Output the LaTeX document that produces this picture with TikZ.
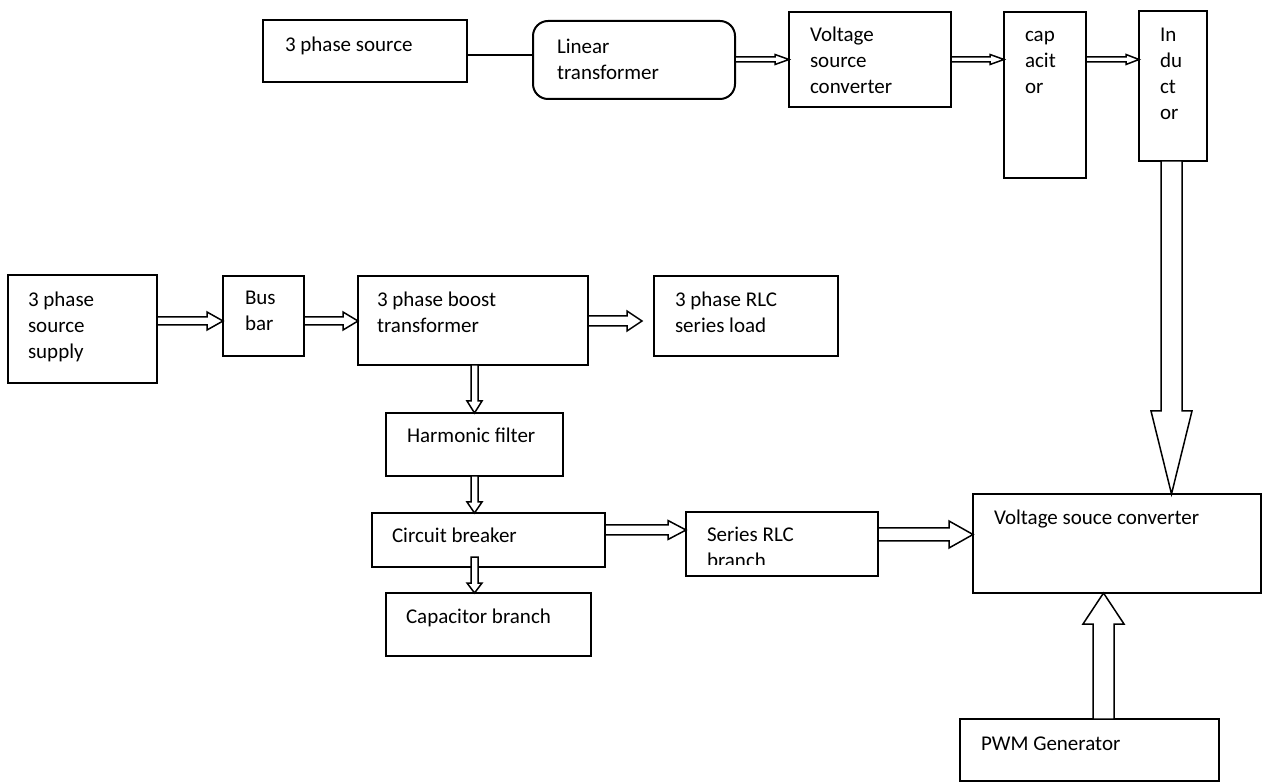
\documentclass[tikz,border=0pt]{standalone}
\usepackage{fontspec}
\setmainfont{Carlito}
\usetikzlibrary{fit,calc}
\newcommand{\ml}[1]{\vtop{\halign{##\hfil\cr#1\crcr}}}
% horizontal block arrow: from, to, y-centre, shaft half, head half, head length
\newcommand{\harr}[6]{\draw[arr] let \p1=(#1), \p2=(#2) in
 (\x1,{-(#3-#4)*1pt}) -- ({\x2-#6pt},{-(#3-#4)*1pt}) -- ({\x2-#6pt},{-(#3-#5)*1pt}) -- (\x2,{-#3*1pt})
 -- ({\x2-#6pt},{-(#3+#5)*1pt}) -- ({\x2-#6pt},{-(#3+#4)*1pt}) -- (\x1,{-(#3+#4)*1pt}) -- cycle;}
% downward block arrow
\newcommand{\darr}[6]{\draw[arr] let \p1=(#1), \p2=(#2) in
 ({(#3-#4)*1pt},\y1) -- ({(#3-#4)*1pt},{\y2+#6pt}) -- ({(#3-#5)*1pt},{\y2+#6pt}) -- ({#3*1pt},\y2)
 -- ({(#3+#5)*1pt},{\y2+#6pt}) -- ({(#3+#4)*1pt},{\y2+#6pt}) -- ({(#3+#4)*1pt},\y1) -- cycle;}
% upward block arrow
\newcommand{\uarr}[6]{\draw[arr] let \p1=(#1), \p2=(#2) in
 ({(#3-#4)*1pt},\y1) -- ({(#3-#4)*1pt},{\y2-#6pt}) -- ({(#3-#5)*1pt},{\y2-#6pt}) -- ({#3*1pt},\y2)
 -- ({(#3+#5)*1pt},{\y2-#6pt}) -- ({(#3+#4)*1pt},{\y2-#6pt}) -- ({(#3+#4)*1pt},\y1) -- cycle;}
\begin{document}
\begin{tikzpicture}[x=1pt,y=-1pt,
  box/.style={draw, line width=2pt, inner sep=0pt, outer sep=0pt},
  txt/.style={anchor=base west, inner sep=0pt, outer sep=0pt, font=\fontsize{21}{26}\selectfont},
  arr/.style={draw, fill=white, line width=1.5pt, line join=miter}]
\fill[white] (0,0) rectangle (1262,783);
\useasboundingbox (0,0) rectangle (1262,783);

% top row
\node[box, fit={(263,20) (467,82)}] (src) {};
\node[txt] (srct) at (285,52) {3 phase source};
\node[box, rounded corners=15pt, fit={(533,21) (735,99)}] (lt) {};
\node[txt] (ltt) at (557,54) {\ml{Linear\cr transformer}};
\node[box, fit={(789,12) (951,107)}] (vsc1) {};
\node[txt] (vsc1t) at (810,42) {\ml{Voltage\cr source\cr converter}};
\node[box, fit={(1004,12) (1086,178)}] (cap) {};
\node[txt] (capt) at (1025,42) {\ml{cap\cr acit\cr or}};
\node[box, fit={(1139,11) (1207,161)}] (ind) {};
\node[txt] (indt) at (1160,42) {\ml{In\cr du\cr ct\cr or}};

% middle row
\node[box, fit={(8,275) (157,383)}] (sup) {};
\node[txt] (supt) at (28,307) {\ml{3 phase\cr source\cr supply}};
\node[box, fit={(223,276) (304,356)}] (bus) {};
\node[txt] (bust) at (245,305) {\ml{Bus\cr bar}};
\node[box, fit={(358,276) (588,365)}] (bst) {};
\node[txt] (bstt) at (377,307) {\ml{3 phase boost\cr transformer}};
\node[box, fit={(654,276) (838,356)}] (rlc) {};
\node[txt] (rlct) at (675,307) {\ml{3 phase RLC\cr series load}};

% lower left column
\node[box, fit={(386,413) (563,476)}] (hf) {};
\node[txt] (hft) at (407,443) {Harmonic filter};
\node[box, fit={(372,513) (605,567)}] (cb) {};
\node[txt] (cbt) at (392,543) {Circuit breaker};
\node[box, fit={(386,593) (591,656)}] (capb) {};
\node[txt] (capbt) at (406,623) {Capacitor branch};

% series RLC branch (text clipped)
\node[box, fit={(686,512) (878,576)}] (srlc) {};
\begin{scope}
\clip (686,512) rectangle (878,564);
\node[txt] (srlct) at (707,542) {\ml{Series RLC\cr branch}};
\end{scope}

% right side
\node[box, fit={(973,494) (1261,593)}] (vsc2) {};
\node[txt] (vsc2t) at (994,525) {Voltage souce converter};
\node[box, fit={(960,719) (1219,781)}] (pwm) {};
\node[txt] (pwmt) at (981,750) {PWM Generator};

% connectors
\draw[line width=2pt] let \p1=(src.east), \p2=(lt.west) in (\x1,-55pt) -- (\x2,-55pt);
\harr{lt.east}{vsc1.west}{59.5}{2.5}{5}{14}
\harr{vsc1.east}{cap.west}{59.5}{2.5}{5}{14}
\harr{cap.east}{ind.west}{59.5}{2.5}{5}{13}

\harr{sup.east}{bus.west}{321}{4}{9}{16}
\harr{bus.east}{bst.west}{321}{4}{9}{15}
\harr{bst.east}{[xshift=-12pt]rlc.west}{321}{5}{10}{15}

\darr{bst.south}{hf.north}{474.5}{3.5}{7.5}{12}
\darr{hf.south}{cb.north}{474.5}{3.5}{7.5}{11}
\darr{[yshift=10pt]cb.south}{capb.north}{474.5}{3.5}{7.5}{10}

\harr{cb.east}{srlc.west}{530}{5}{9.5}{18}
\harr{srlc.east}{vsc2.west}{534.5}{6.5}{13.5}{24}

\darr{ind.south}{vsc2.north}{1171.5}{10.5}{20.5}{83}
\uarr{pwm.north}{vsc2.south}{1103.5}{10.5}{20.5}{31}
\end{tikzpicture}
\end{document}
